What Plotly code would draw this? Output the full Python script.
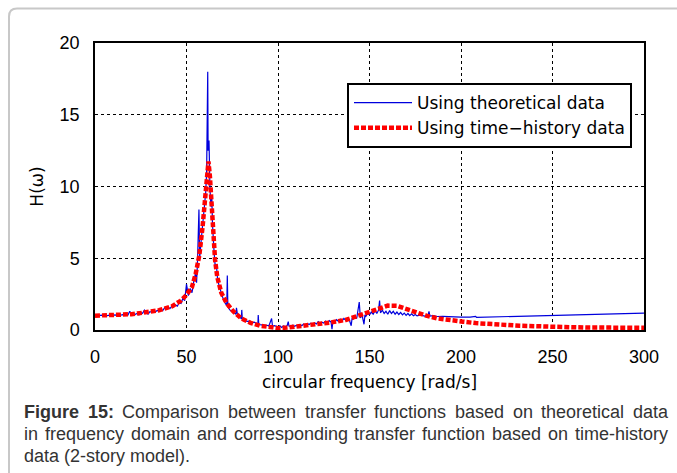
import plotly.graph_objects as go

# ---------------- data ----------------
blue_x = [0, 1, 2, 3, 4, 5, 6, 7, 8, 9, 10, 11, 12, 13, 14, 15, 16, 17, 18, 19,
          20, 21, 22, 23, 24, 25, 26, 27, 28, 29, 30, 31, 32, 33, 34, 35, 36, 37, 38, 39,
          40, 41, 42, 43, 44, 45, 46, 47, 48, 49,
          50, 51, 52, 53, 54, 55, 55.5, 56, 56.8, 57.2, 58, 59, 60, 60.5, 61,
          61.6, 61.8, 62.3, 62.8, 63.3, 63.8, 64.2, 65, 65.7, 66.3, 67, 68, 69, 70, 71, 72, 72.3, 72.6, 74, 75,
          76, 77, 77.3, 78, 80, 80.2, 80.5, 82, 83, 84, 86, 87, 89, 89.2, 89.5, 91, 92, 94, 95, 96.5, 97, 98,
          100, 101, 102, 103, 104, 105, 105.6, 106, 107, 108, 109, 110, 111, 112, 113, 114, 115, 116, 117, 118,
          119, 120, 121, 122, 123, 124, 125, 126, 127, 128, 129, 129.5, 130, 131, 132, 133, 134, 135, 136, 137,
          138, 139, 140, 140.5, 141, 142, 143, 144.4, 144.8, 145, 146, 147, 147.5, 148, 149, 150, 151, 152, 153, 154,
          155, 155.5, 156, 157, 158, 159, 160, 161, 162, 163, 164, 165, 166, 167, 168, 169, 170, 171, 172, 173,
          174, 175, 176, 178, 180, 182, 182.5, 183, 185, 187, 190, 193, 196, 200, 205, 208, 208.5, 215, 220, 230,
          240, 250, 260, 270, 280, 290, 300]
blue_y = [1.00, 1.01, 0.99, 1.02, 1.00, 1.03, 0.99, 1.02, 1.04, 1.00, 1.03, 1.05, 1.01, 1.06, 1.03, 1.07, 1.04, 1.09, 1.05, 1.30,
          1.08, 1.12, 1.09, 1.15, 1.05, 1.20, 1.17, 1.38, 1.20, 1.10, 1.28, 1.24, 1.31, 1.27, 1.36, 1.30, 1.42, 1.35, 1.55, 1.45,
          1.58, 1.50, 1.66, 1.60, 1.75, 1.66, 1.90, 1.85, 2.20, 2.05,
          3.2, 2.4, 2.9, 2.6, 3.4, 4.0, 3.3, 4.7, 8.4, 5.0, 6.2, 7.5, 9.0, 9.6, 11.0,
          18.0, 12.5, 13.2, 10.0, 8.6, 9.4, 7.4, 5.6, 4.4, 4.6, 3.5, 3.0, 2.5, 2.2, 1.9, 1.7, 3.8, 1.6, 1.35, 1.3,
          1.2, 1.1, 1.55, 0.95, 0.8, 1.4, 0.75, 0.7, 0.6, 0.62, 0.5, 0.55, 0.4, 1.05, 0.38, 0.36, 0.32, 0.33, 0.28, 0.8, 0.26, 0.3,
          0.22, 0.3, 0.18, 0.28, 0.22, 0.3, 0.58, 0.27, 0.24, 0.33, 0.26, 0.32, 0.28, 0.38, 0.3, 0.42, 0.35, 0.45, 0.38, 0.48,
          0.4, 0.5, 0.42, 0.58, 0.45, 0.55, 0.48, 0.62, 0.5, 0.65, 0.55, 0.05, 0.62, 0.55, 0.72, 0.6, 0.75, 0.62, 0.8, 0.68,
          0.82, 0.7, 0.3, 0.85, 0.75, 0.92, 0.8, 1.95, 0.9, 0.85, 1.0, 0.4, 1.05, 0.95, 1.15, 1.05, 1.25, 1.1, 1.35, 1.15,
          1.4, 2.05, 1.2, 1.38, 1.15, 1.3, 1.1, 1.35, 1.15, 1.3, 1.1, 1.25, 1.08, 1.22, 1.05, 1.18, 1.02, 1.15, 1.0, 1.12,
          1.0, 1.08, 0.98, 1.05, 0.97, 1.02, 1.3, 0.97, 1.0, 0.94, 0.95, 0.92, 0.93, 0.9, 0.9, 0.95, 0.88, 0.9, 0.9, 0.92,
          0.95, 1.0, 1.02, 1.05, 1.1, 1.13, 1.18]

red_x = [0, 10, 20, 26, 35, 42, 47, 50, 53, 55, 57, 58.8, 60, 61, 62, 62.8, 63.8, 64.7, 65.6, 66.8,
         69, 72, 75.6, 80, 85, 90, 95, 100, 105, 110, 119, 128, 137, 145, 150, 155, 160, 165, 170, 176,
         181, 187, 192, 201, 208, 216, 232, 250, 268, 300]
red_y = [1.0, 1.02, 1.1, 1.2, 1.38, 1.65, 2.05, 2.45, 3.0, 3.9, 5.2, 7.2, 9.0, 10.9, 11.75, 10.7, 8.4, 6.3, 4.9, 3.7,
         2.6, 1.85, 1.3, 0.8, 0.5, 0.3, 0.2, 0.13, 0.17, 0.23, 0.35, 0.51, 0.7, 1.05, 1.28, 1.55, 1.7, 1.69, 1.45, 1.23,
         1.0, 0.81, 0.7, 0.58, 0.48, 0.4, 0.3, 0.23, 0.17, 0.16]

series_names = ["Using theoretical data", "Using time\u2212history data"]
x_ticks = [0, 50, 100, 150, 200, 250, 300]
y_ticks = [0, 5, 10, 15, 20]

caption_lines = [
    [("Figure", True), ("15:", True), ("Comparison", False), ("between", False), ("transfer", False),
     ("functions", False), ("based", False), ("on", False), ("theoretical", False), ("data", False)],
    [("in", False), ("frequency", False), ("domain", False), ("and", False), ("corresponding", False),
     ("transfer", False), ("function", False), ("based", False), ("on", False), ("time-history", False)],
    [("data", False), ("(2-story", False), ("model).", False)],
]
caption_justify = [True, True, False]

# ---------------- layout helpers ----------------
W, H = 677, 473
L, R, T, B = 95, 644, 43, 330


def px_x(px):
    return (px - L) / (R - L)


def px_y(py):
    return (B - py) / (B - T)


# Arial / Liberation Sans advance widths (1/1000 em)
ARIAL = {' ': 278, '(': 333, ')': 333, '-': 333, '.': 278, ':': 278, '/': 278,
         '0': 556, '1': 556, '2': 556, '3': 556, '4': 556, '5': 556, '6': 556, '7': 556, '8': 556, '9': 556,
         'C': 722, 'F': 611,
         'a': 556, 'b': 556, 'c': 500, 'd': 556, 'e': 556, 'f': 278, 'g': 556, 'h': 556, 'i': 222, 'j': 222,
         'k': 500, 'l': 222, 'm': 833, 'n': 556, 'o': 556, 'p': 556, 'q': 556, 'r': 333, 's': 500, 't': 278,
         'u': 556, 'v': 500, 'w': 722, 'x': 500, 'y': 500, 'z': 500}
ARIAL_B = {' ': 278, ':': 333, '1': 556, '5': 556, 'F': 611, 'i': 278, 'g': 611, 'u': 611, 'r': 389, 'e': 556}
CAP_SIZE = 18


def word_w(word, bold):
    tab = ARIAL_B if bold else ARIAL
    return sum(tab.get(c, 556) for c in word) / 1000 * CAP_SIZE


fig = go.Figure()
fig.add_trace(go.Scatter(x=blue_x, y=blue_y, mode="lines", name=series_names[0],
                         line=dict(color="#0000dd", width=1.2)))
fig.add_trace(go.Scatter(x=red_x, y=red_y, mode="lines", name=series_names[1],
                         line=dict(color="#ff0000", width=4.5, dash="5px,2px")))

axis_common = dict(showline=True, linecolor="black", linewidth=1.5, mirror=True,
                   showgrid=True, gridcolor="black", gridwidth=1, griddash="3px,3px",
                   zeroline=False, ticks="", ticklabelstandoff=10,
                   tickfont=dict(family="Liberation Sans", size=18, color="black"))

fig.update_xaxes(range=[0, 300], tickvals=x_ticks,
                 title=dict(text="circular frequency [rad/s]", standoff=10,
                            font=dict(family="DejaVu Sans", size=17, color="black")),
                 **axis_common)
fig.update_yaxes(range=[0, 20], tickvals=y_ticks,
                 title=dict(text="H(\u03c9)", standoff=12,
                            font=dict(family="DejaVu Sans", size=17, color="black")),
                 **axis_common)

# caption, justified word by word
ann = []
line_y = [411.7, 434.0, 456.3]
left_px, right_px = 24.0, 668.0
for words, just, yc in zip(caption_lines, caption_justify, line_y):
    widths = [word_w(w, b) for w, b in words]
    space = ARIAL[' '] / 1000 * CAP_SIZE
    if just and len(words) > 1:
        gap = (right_px - left_px - sum(widths)) / (len(words) - 1)
    else:
        gap = space
    x = left_px
    for (w, b), wd in zip(words, widths):
        ann.append(dict(x=px_x(x), y=px_y(yc), xref="paper", yref="paper",
                        xanchor="left", yanchor="middle", showarrow=False,
                        text=f"<b>{w}</b>" if b else w, borderpad=0, borderwidth=0,
                        font=dict(family="Liberation Sans", size=CAP_SIZE, color="#333333")))
        x += wd + gap

# outer rounded border (top and left)
r = 8
bx, by = 9, 8.5
path = (f"M {px_x(bx)} {px_y(H + 5)} L {px_x(bx)} {px_y(by + r)} "
        f"Q {px_x(bx)} {px_y(by)} {px_x(bx + r)} {px_y(by)} L {px_x(W + 5)} {px_y(by)}")

fig.update_layout(
    width=W, height=H,
    margin=dict(l=L, r=W - R, t=T, b=H - B, autoexpand=False),
    paper_bgcolor="white", plot_bgcolor="white",
    showlegend=True,
    legend=dict(x=px_x(347), y=px_y(83), xanchor="left", yanchor="top",
                bgcolor="white", bordercolor="black", borderwidth=2,
                font=dict(family="DejaVu Sans", size=17, color="black"),
                itemwidth=58, tracegroupgap=0),
    annotations=ann,
    shapes=[dict(type="path", path=path, xref="paper", yref="paper",
                 line=dict(color="#c8c8c8", width=2))],
)

fig.write_html("out.html")
